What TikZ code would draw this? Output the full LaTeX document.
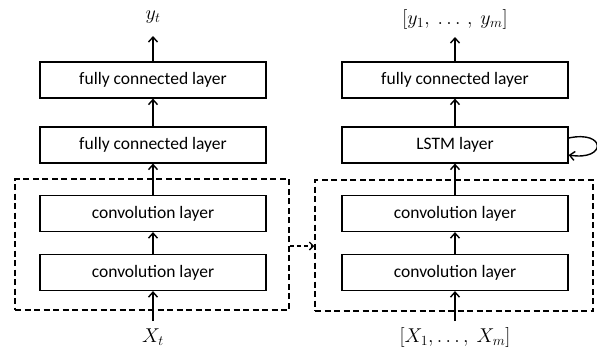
\documentclass[tikz,border=0pt]{standalone}
\usepackage{fix-cm}
\usepackage{fontspec}
\setmainfont{Carlito}
\usetikzlibrary{arrows.meta}
\begin{document}
\begin{tikzpicture}[x=1pt,y=-1pt,
  layer/.style={draw,line width=1.2pt,minimum width=226pt,minimum height=36pt,inner sep=0pt,font=\fontsize{17.5}{20}\selectfont},
  grp/.style={draw,line width=1.5pt,dash pattern=on 6pt off 3.5pt},
  arr/.style={line width=1.4pt,-{Straight Barb[length=5pt,width=9pt,line width=1.4pt]}},
  dasharr/.style={line width=1.3pt,dash pattern=on 4pt off 3pt,-{Straight Barb[length=4pt,width=8pt,line width=1.3pt]}},
  lbl/.style={inner sep=0pt,font=\fontsize{20}{22}\selectfont}]
\useasboundingbox (0,0) rectangle (597,351);
% left panel
\node[layer] (lfc2) at (153,80) {fully connected layer};
\node[layer] (lfc1) at (153,145) {fully connected layer};
\node[layer] (lc2) at (153,213.5) {convolution layer};
\node[layer] (lc1) at (153,272.5) {convolution layer};
\node[grp,minimum width=274pt,minimum height=131pt,inner sep=0pt] (lg) at (152,244.5) {};
\node[lbl] (yt) at (153,17) {$y_t$};
\node[lbl] (xt) at (153,337) {$X_t$};
\coordinate (xtin) at (153,321);
\coordinate (ytout) at (153,36);
\draw[arr] (xtin) -- (lc1.south);
\draw[arr] (lc1) -- (lc2);
\draw[arr] (lc2) -- (lfc1);
\draw[arr] (lfc1) -- (lfc2);
\draw[arr] (lfc2) -- (ytout);
% right panel
\node[layer] (rfc2) at (455,80) {fully connected layer};
\node[layer] (rlstm) at (455,145) {LSTM layer};
\node[layer] (rc2) at (455,213.5) {convolution layer};
\node[layer] (rc1) at (455,272.5) {convolution layer};
\node[grp,minimum width=278pt,minimum height=131pt,inner sep=0pt] (rg) at (454,245.5) {};
\node[lbl] (ym) at (455,19) {$[y_1,\ \ldots\,,\ y_m]$};
\node[lbl] (xm) at (455,337) {$[X_1,\ldots,\ X_m]$};
\coordinate (xmin) at (455,321);
\coordinate (ymout) at (455,37);
\draw[arr] (xmin) -- (rc1.south);
\draw[arr] (rc1) -- (rc2);
\draw[arr] (rc2) -- (rlstm);
\draw[arr] (rlstm) -- (rfc2);
\draw[arr] (rfc2) -- (ymout);
% self loop
\draw[line width=1.4pt,-{Straight Barb[length=5pt,width=9pt,line width=1.4pt]}]
  ([yshift=7pt]rlstm.east) .. controls +(38,-8) and +(38,6) .. ([yshift=-10pt]rlstm.east);
% between groups
\draw[dasharr] (lg.east |- 0,246) -- (rg.west |- 0,246);
\end{tikzpicture}
\end{document}
